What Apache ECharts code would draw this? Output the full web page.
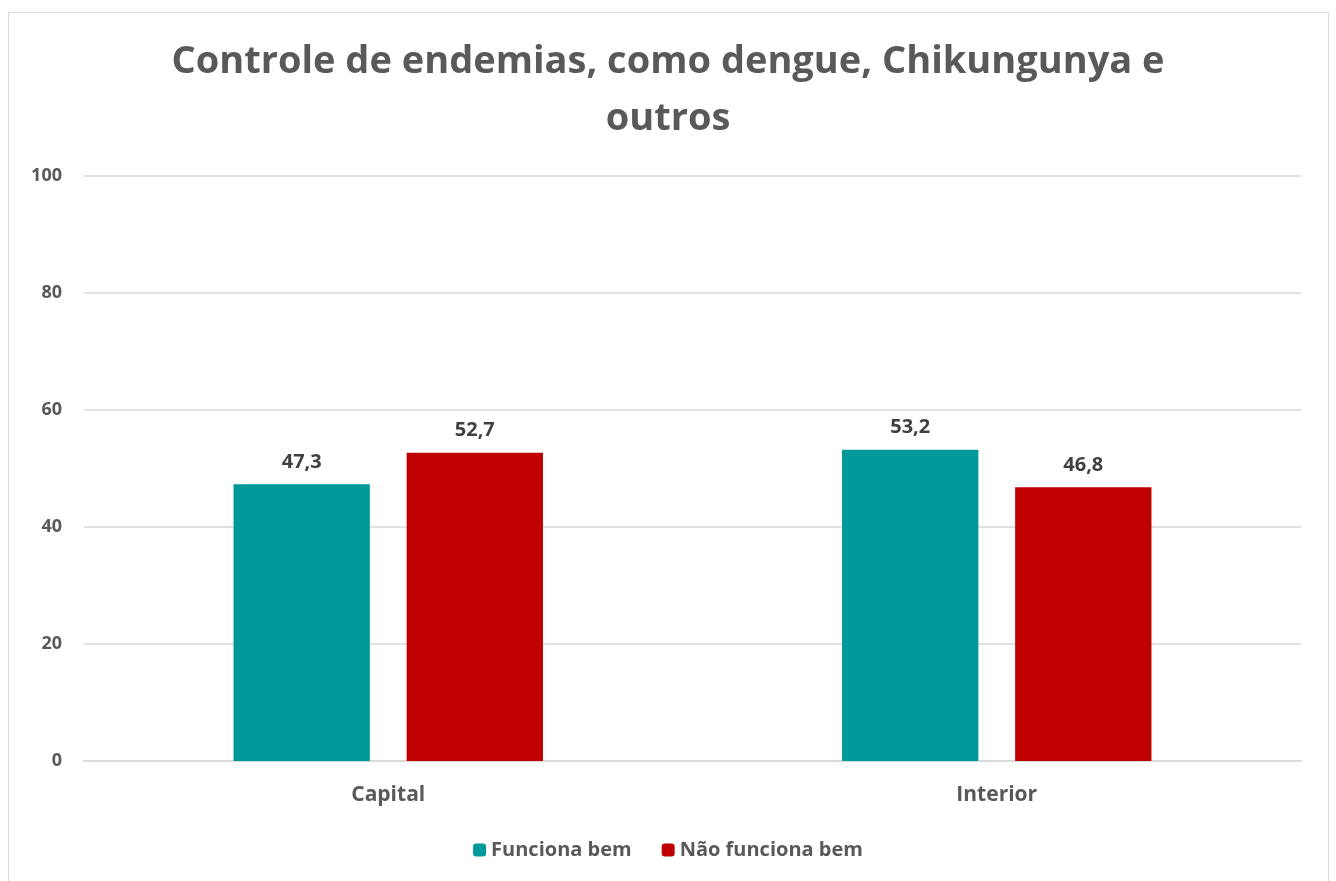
<!DOCTYPE html>
<html><head><meta charset="utf-8">
<script src="https://cdn.jsdelivr.net/npm/echarts@6/dist/echarts.min.js"></script>
<style>
html,body{margin:0;padding:0;background:#fff;}
#frame{position:absolute;left:8px;top:12px;width:1321px;height:880px;border:1px solid #d9d9d9;box-sizing:border-box;}
#chart{position:absolute;left:0;top:0;width:1336px;height:881px;}
</style></head>
<body><div id="frame"></div><div id="chart"></div>
<script>
const categories = ['Capital', 'Interior'];
const seriesNames = ['Funciona bem', 'Não funciona bem'];
const funcionaBem = [47.3, 53.2];
const naoFuncionaBem = [52.7, 46.8];
const yTicks = [0, 20, 40, 60, 80, 100];

const chart = echarts.init(document.getElementById('chart'), null, {renderer: 'canvas'});
const font = '"Open Sans", sans-serif';
const lbl = {show: true, position: 'top', distance: 12, fontFamily: font, fontWeight: 'bold', fontSize: 20, color: '#404040',
  formatter: p => p.value.toFixed(1).replace('.', ',')};
chart.setOption({
  animation: false,
  title: {text: 'Controle de endemias, como dengue, Chikungunya e\noutros', left: 'center', top: 29,
    textStyle: {fontFamily: font, fontWeight: 'bold', fontSize: 38, color: '#595959', lineHeight: 57}},
  legend: {bottom: 16, left: 'center', itemWidth: 13, itemHeight: 13, itemGap: 30,
    textStyle: {fontFamily: font, fontWeight: 'bold', fontSize: 20, color: '#595959'},
    data: seriesNames},
  grid: {left: 84, right: 35, top: 176, bottom: 120},
  xAxis: {type: 'category', data: categories,
    axisLine: {lineStyle: {color: '#d9d9d9', width: 2}}, axisTick: {show: false},
    axisLabel: {fontFamily: font, fontWeight: 'bold', fontSize: 21, color: '#595959', margin: 24}},
  yAxis: {type: 'value', min: 0, max: 100, interval: 20,
    axisLine: {show: false}, axisTick: {show: false},
    splitLine: {lineStyle: {color: '#d9d9d9', width: 1.5}},
    axisLabel: {fontFamily: font, fontWeight: 'bold', fontSize: 18, color: '#595959', margin: 22,
      formatter: v => yTicks.includes(v) ? String(v) : ''}},
  series: [
    {name: seriesNames[0], type: 'bar', data: funcionaBem, barWidth: '22.4%', barGap: '27%',
      itemStyle: {color: '#009999'}, label: lbl},
    {name: seriesNames[1], type: 'bar', data: naoFuncionaBem, barWidth: '22.4%',
      itemStyle: {color: '#c00000'}, label: lbl}
  ]
});
</script></body></html>
